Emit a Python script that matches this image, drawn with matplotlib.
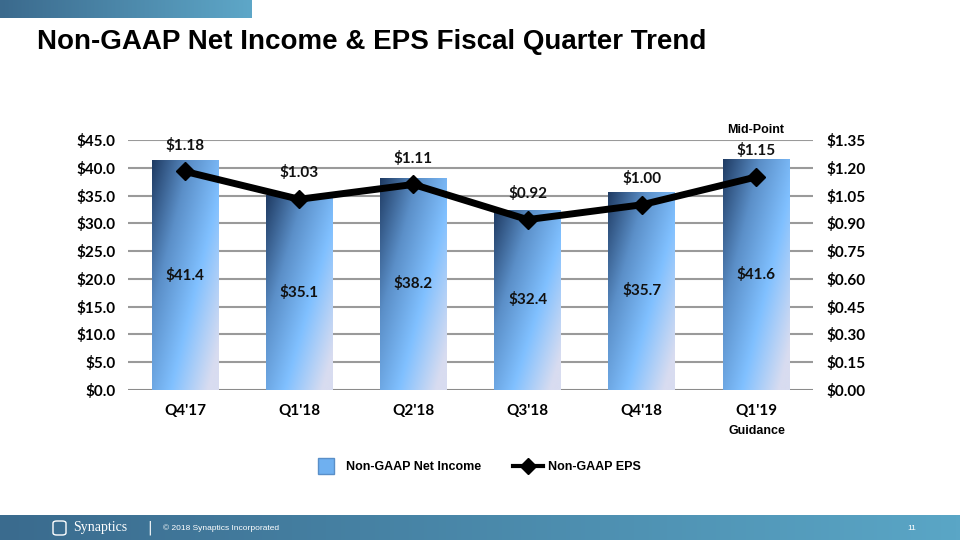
import numpy as np
import matplotlib.pyplot as plt
from matplotlib.colors import LinearSegmentedColormap
from matplotlib.lines import Line2D
from matplotlib.patches import FancyBboxPatch

quarters = ["Q4'17", "Q1'18", "Q2'18", "Q3'18", "Q4'18", "Q1'19"]
net_income = [41.4, 35.1, 38.2, 32.4, 35.7, 41.6]
eps = [1.18, 1.03, 1.11, 0.92, 1.00, 1.15]

income_ticks = np.arange(0, 45.1, 5)
eps_ticks = np.arange(0, 1.351, 0.15)

lab_font = 'Lato'
hdr_font = ['Liberation Sans Narrow', 'Liberation Sans', 'DejaVu Sans']

fig = plt.figure(figsize=(9.6, 5.4), dpi=100)
fig.patch.set_facecolor('white')

# top strip and footer band
grad_h = np.linspace(0, 1, 256).reshape(1, -1)
band = LinearSegmentedColormap.from_list('band', ['#3b6a8d', '#5ea7c8'])
top = fig.add_axes([0, 1 - 18 / 540, 252 / 960, 18 / 540])
top.imshow(grad_h, aspect='auto', cmap=band)
top.axis('off')
foot = fig.add_axes([0, 0, 1, 25 / 540])
foot.imshow(grad_h, aspect='auto', cmap=LinearSegmentedColormap.from_list('f', ['#3a6b8e', '#5aa6c6']))
foot.axis('off')
# small logo box
fig.patches.append(FancyBboxPatch((53 / 960, 5 / 540), 13 / 960, 14 / 540,
                                  boxstyle='round,pad=0,rounding_size=0.004',
                                  transform=fig.transFigure, facecolor='none',
                                  edgecolor='white', lw=1))
fig.text(73 / 960, 12 / 540, 'Synaptics', color='white', fontsize=10, family='Liberation Serif',
         va='center', ha='left')
fig.text(150 / 960, 12 / 540, '|', color='white', fontsize=10, va='center', ha='center')
fig.text(163 / 960, 12 / 540, '\u00a9 2018 Synaptics Incorporated', color='white', fontsize=6,
         family='Liberation Sans', va='center')
fig.text(907 / 960, 12 / 540, '11', color='white', fontsize=6, family='Liberation Sans', va='center')

fig.text(37 / 960, 498 / 540, 'Non-GAAP Net Income & EPS Fiscal Quarter Trend', fontsize=20,
         fontweight='bold', family=hdr_font, va='center', ha='left', color='black')

ax = fig.add_axes([128 / 960, 1 - 390 / 540, 685 / 960, 250 / 540])
ax2 = ax.twinx()

x = np.arange(len(quarters))
width = 0.585
bars = ax.bar(x, net_income, width, color='none', edgecolor='none', zorder=2)

# diagonal gradient fill for each bar
barmap = LinearSegmentedColormap.from_list('bar', ['#1f3b63', '#5b8fc8', '#80c0ff', '#d8dcf0'])
gy, gx = np.mgrid[0:1:100j, 0:1:100j]
grad = np.clip(gx * 0.65 + gy * 0.55, 0, 1.1) / 1.1
for b in bars:
    x0, w, h = b.get_x(), b.get_width(), b.get_height()
    im = ax.imshow(grad, cmap=barmap, extent=[x0, x0 + w, 0, h], origin='upper',
                   aspect='auto', zorder=2, interpolation='bilinear')
    im.set_clip_path(b)

for xi, v in zip(x, net_income):
    ax.text(xi, v / 2, '$%.1f' % v, ha='center', va='center', fontsize=11,
            fontweight='bold', family=lab_font, color='#111111', zorder=4)

ax.set_xlim(-0.5, len(quarters) - 0.5)
ax.set_ylim(0, 45)
ax.set_yticks(income_ticks)
ax.set_yticklabels(['$%.1f' % t for t in income_ticks])
ax.set_xticks(x)
ax.set_xticklabels(quarters)
ax.yaxis.grid(True, color='#9a9a9a', lw=1.5, zorder=0)
ax.set_axisbelow(True)
for s in ax.spines.values():
    s.set_visible(False)
ax.axhline(0, color='#8a8a8a', lw=2, zorder=1)
ax.tick_params(length=0, labelsize=11)
for t in ax.get_xticklabels() + ax.get_yticklabels():
    t.set_fontweight('bold')
    t.set_family(lab_font)
ax.tick_params(axis='y', pad=9)
ax.tick_params(axis='x', pad=10)

ax2.plot(x, eps, color='black', lw=5, marker='D', markersize=9, zorder=5,
         solid_joinstyle='miter')
ax2.set_ylim(0, 1.35)
ax2.set_yticks(eps_ticks)
ax2.set_yticklabels(['$%.2f' % t for t in eps_ticks])
for s in ax2.spines.values():
    s.set_visible(False)
ax2.tick_params(length=0, labelsize=11, pad=10)
for t in ax2.get_yticklabels():
    t.set_fontweight('bold')
    t.set_family(lab_font)

for xi, v in zip(x, eps):
    ax2.annotate('$%.2f' % v, (xi, v), xytext=(0, 19), textcoords='offset points',
                 ha='center', va='center', fontsize=11, fontweight='bold',
                 family=lab_font, color='#111111')

ax2.text(x[-1], 1.37, 'Mid-Point', transform=ax2.transData, ha='center', va='bottom',
         fontsize=9, fontweight='bold', family='Liberation Sans')
fig.text(757 / 960, 1 - 431 / 540, 'Guidance', ha='center', va='center', fontsize=9,
         fontweight='bold', family='Liberation Sans')

handles = [Line2D([], [], ls='none', marker='s', markersize=11, markerfacecolor='#6fb0f0',
                  markeredgecolor='#5a8fc8'),
           Line2D([], [], color='black', lw=3, marker='D', markersize=8)]
fig.legend(handles, ['Non-GAAP Net Income', 'Non-GAAP EPS'], loc='center',
           bbox_to_anchor=(476 / 960, 1 - 467 / 540), ncol=2, frameon=False,
           prop={'family': 'Liberation Sans', 'weight': 'bold', 'size': 9},
           handlelength=2.4, columnspacing=2.6, handletextpad=0.4)

fig.savefig('out.png', dpi=100)
